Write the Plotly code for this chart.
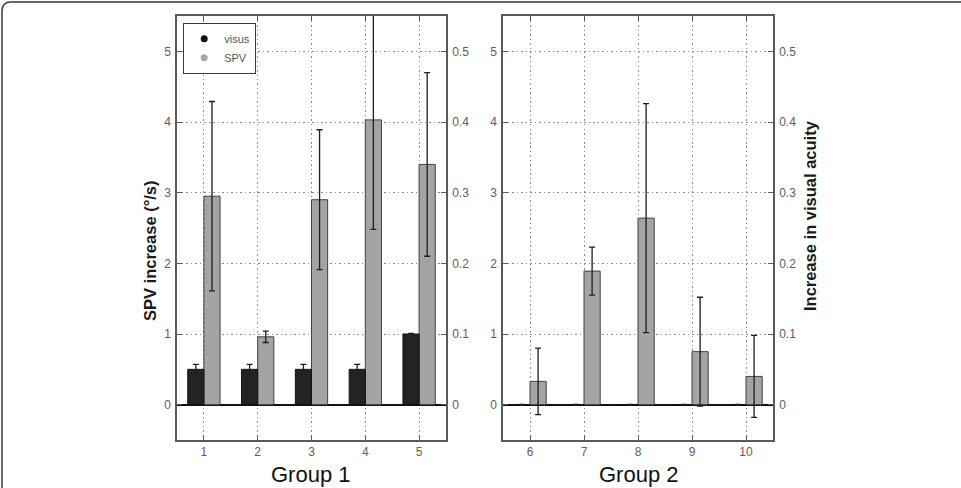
import plotly.graph_objects as go

W, H = 961, 488

# ---- data ----
group1_x = [1, 2, 3, 4, 5]
group2_x = [6, 7, 8, 9, 10]

spv_g1 = [2.95, 0.96, 2.90, 4.03, 3.40]
spv_g1_err = [1.34, 0.08, 0.99, 1.55, 1.30]
visus_g1 = [0.05, 0.05, 0.05, 0.05, 0.10]
visus_g1_err = [0.007, 0.007, 0.007, 0.007, 0.001]

spv_g2 = [0.33, 1.89, 2.64, 0.75, 0.40]
spv_g2_err = [0.47, 0.34, 1.62, 0.77, 0.58]
visus_g2 = [0.0, 0.0, 0.0, 0.0, 0.0]
visus_g2_err = [0.0005, 0.0005, 0.0005, 0.0005, 0.0005]

left_ticks = [0, 1, 2, 3, 4, 5]
right_ticks = [0, 0.1, 0.2, 0.3, 0.4, 0.5]
right_tick_text = ["0", "0.1", "0.2", "0.3", "0.4", "0.5"]

FONT = "Liberation Sans, Arial, sans-serif"
VIS_C = "#232323"
SPV_C = "#a4a4a4"
ERR_C = "#1e1e1e"
AX_C = "#5a5a5a"
GRID_C = "#8c8c8c"
GRID_DASH = "1.5px,3px"
TICK_FONT = dict(family=FONT, size=12, color="#5e5e5e")

fig = go.Figure()

def add_group(xs, spv, spv_err, vis, vis_err, xa, ya_left, ya_right):
    fig.add_trace(go.Bar(
        x=xs, y=vis, xaxis=xa, yaxis=ya_right, width=0.3, offset=-0.3,
        marker=dict(color=VIS_C, line=dict(color="#111111", width=1)),
        error_y=dict(type="data", array=vis_err, color=ERR_C, thickness=1.3, width=3),
        showlegend=False))
    fig.add_trace(go.Bar(
        x=xs, y=spv, xaxis=xa, yaxis=ya_left, width=0.3, offset=0.0,
        marker=dict(color=SPV_C, line=dict(color="#404040", width=1)),
        error_y=dict(type="data", array=spv_err, color=ERR_C, thickness=1.3, width=3),
        showlegend=False))

add_group(group1_x, spv_g1, spv_g1_err, visus_g1, visus_g1_err, "x", "y", "y2")
add_group(group2_x, spv_g2, spv_g2_err, visus_g2, visus_g2_err, "x2", "y3", "y4")

# legend entries (dots)
fig.add_trace(go.Scatter(x=[None], y=[None], mode="markers", name="visus",
                         marker=dict(color="#111111", size=7), xaxis="x", yaxis="y"))
fig.add_trace(go.Scatter(x=[None], y=[None], mode="markers", name="SPV",
                         marker=dict(color="#a8a8a8", size=7), xaxis="x", yaxis="y"))

def px_x(p):
    return p / W

def px_y(p):
    return 1 - p / H

dom1 = [px_x(177), px_x(446)]
dom2 = [px_x(503), px_x(773)]
ydom = [px_y(440), px_y(16)]

def xaxis(dom, rng, ticks, anchor):
    return dict(domain=dom, range=rng, tickvals=ticks, ticktext=[str(t) for t in ticks],
                anchor=anchor, showline=True, linecolor=AX_C, linewidth=1.5, mirror="ticks",
                ticks="inside", ticklen=5, tickcolor=AX_C, tickwidth=1.2,
                showgrid=True, gridcolor=GRID_C, griddash=GRID_DASH, gridwidth=1,
                zeroline=False, tickfont=TICK_FONT, fixedrange=True)

def yleft(anchor):
    return dict(domain=ydom, range=[-0.5, 5.5], tickvals=left_ticks, anchor=anchor, side="left",
                showline=True, linecolor=AX_C, linewidth=1.5, ticks="inside", ticklen=5,
                tickcolor=AX_C, tickwidth=1.2, showgrid=True, gridcolor=GRID_C,
                griddash=GRID_DASH, gridwidth=1, zeroline=True, zerolinecolor="#111111",
                zerolinewidth=1.5, tickfont=TICK_FONT, ticklabelstandoff=2)

def yright(anchor, overlay):
    return dict(domain=ydom, range=[-0.05, 0.55], tickvals=right_ticks, ticktext=right_tick_text,
                anchor=anchor, overlaying=overlay, side="right",
                showline=True, linecolor=AX_C, linewidth=1.5, ticks="inside", ticklen=5,
                tickcolor=AX_C, tickwidth=1.2, showgrid=False, zeroline=False,
                tickfont=TICK_FONT, ticklabelstandoff=2)

TITLE_FONT = dict(family=FONT, size=16.5, color="#1a1a1a")

fig.update_layout(
    width=W, height=H,
    margin=dict(l=0, r=0, t=0, b=0),
    paper_bgcolor="white", plot_bgcolor="white",
    barmode="overlay",
    xaxis=xaxis(dom1, [0.5, 5.5], group1_x, "y"),
    xaxis2=xaxis(dom2, [5.5, 10.5], group2_x, "y3"),
    yaxis=yleft("x"),
    yaxis2=yright("x", "y"),
    yaxis3=yleft("x2"),
    yaxis4=yright("x2", "y3"),
    legend=dict(x=px_x(183), y=px_y(23), xanchor="left", yanchor="top",
                bgcolor="white", bordercolor="#3a3a3a", borderwidth=1.2,
                font=dict(family=FONT, size=11, color="#555555"),
                itemwidth=30, tracegroupgap=0),
    annotations=[
        dict(text="<b>SPV increase (°/s)</b>", x=px_x(150), y=px_y(251), xref="paper", yref="paper",
             textangle=-90, showarrow=False, font=TITLE_FONT, xanchor="center", yanchor="middle"),
        dict(text="<b>Increase in visual acuity</b>", x=px_x(810), y=px_y(216), xref="paper", yref="paper",
             textangle=-90, showarrow=False, font=TITLE_FONT, xanchor="center", yanchor="middle"),
        dict(text="Group 1", x=px_x(311), y=px_y(474), xref="paper", yref="paper",
             showarrow=False, font=dict(family=FONT, size=22, color="#111111"),
             xanchor="center", yanchor="middle"),
        dict(text="Group 2", x=px_x(639), y=px_y(474), xref="paper", yref="paper",
             showarrow=False, font=dict(family=FONT, size=22, color="#111111"),
             xanchor="center", yanchor="middle"),
    ],
    shapes=[
        dict(type="path", xref="paper", yref="paper",
             path=f"M {px_x(2)} {px_y(488)} L {px_x(2)} {px_y(11)} Q {px_x(2)} {px_y(2)} {px_x(11)} {px_y(2)} L {px_x(961)} {px_y(2)}",
             line=dict(color="#3a3a3a", width=1.5)),
    ],
)

fig.write_html("out.html")
